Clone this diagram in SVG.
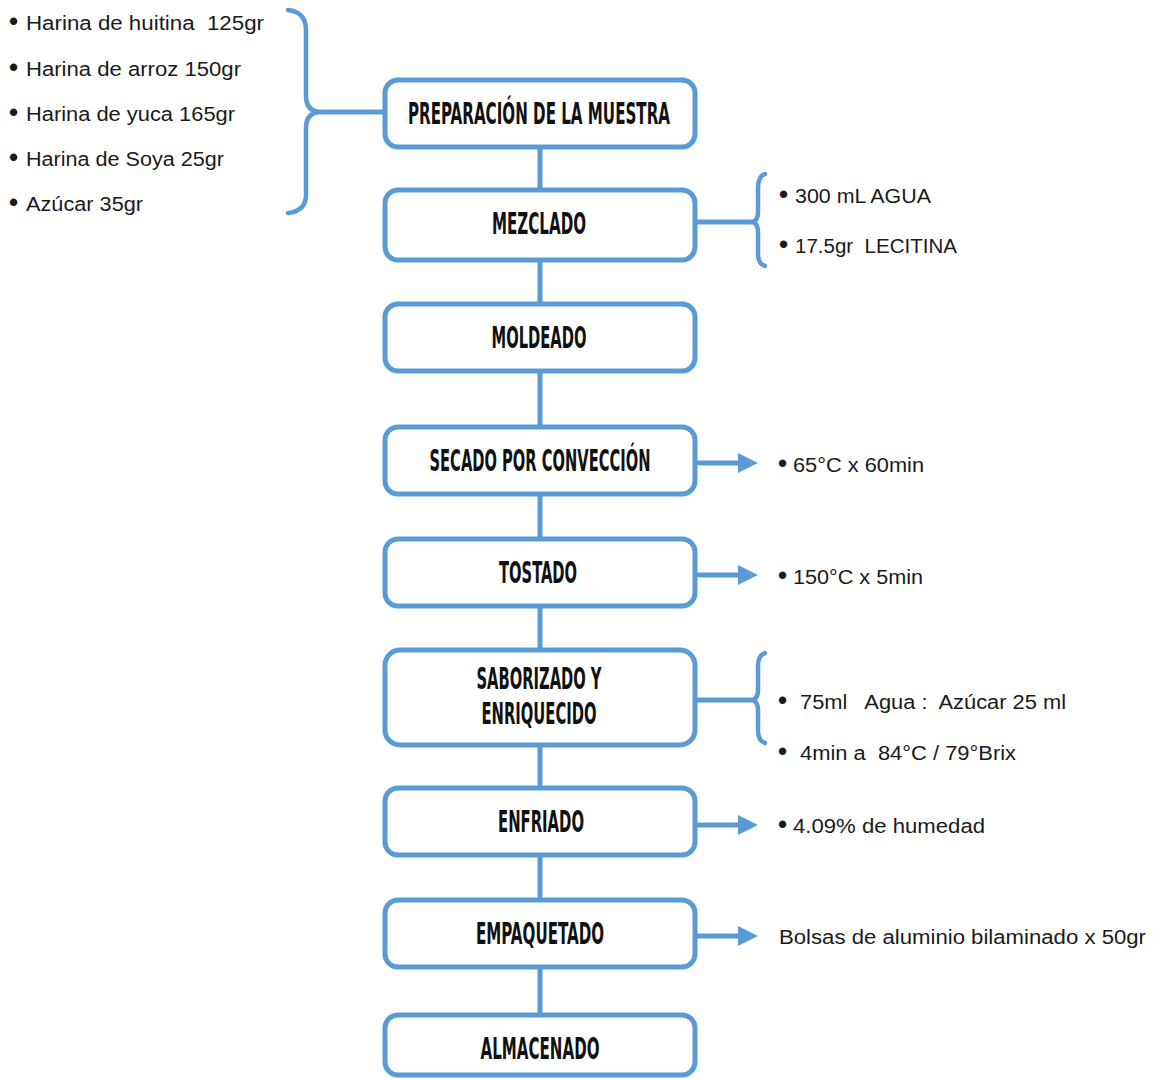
<svg xmlns="http://www.w3.org/2000/svg" width="1153" height="1079" viewBox="0 0 1153 1079">
<style>
.box{fill:#fff;stroke:#5b9bd5;stroke-width:5}
.ln{fill:none;stroke:#5b9bd5;stroke-width:5}
.br{fill:none;stroke:#5b9bd5;stroke-width:4.5;stroke-linecap:round;stroke-linejoin:round}
.t{font-family:"Liberation Sans Narrow","DejaVu Sans Condensed","Liberation Sans",sans-serif;font-weight:bold;font-size:30px;fill:#111;text-anchor:middle}
.n{font-family:"Liberation Sans","Open Sans",sans-serif;font-size:20px;fill:#1a1a1a;white-space:pre}
.b{font-size:26px;font-weight:bold}
</style>
<rect width="1153" height="1079" fill="#fff"/>
<g id="connectors">
<path class="ln" d="M540 148 V190 M540 260 V304 M540 371 V427 M540 494 V539 M540 606 V650 M540 745 V788 M540 855 V900 M540 967 V1015"/>
<path class="ln" d="M318 112 H385"/>
<path class="br" d="M288 10 Q306 12 306 30 V96 Q306 110 318 112 Q306 114 306 128 V195 Q306 211 288 213"/>
<path class="ln" d="M695 222 H752"/>
<path class="br" d="M765 174 Q758 176 758 188 V212 Q758 221 752 222 Q758 223 758 232 V254 Q758 264 765 266"/>
<path class="ln" d="M695 700 H752"/>
<path class="br" d="M765 653 Q758 655 758 666 V690 Q758 699 752 700 Q758 701 758 710 V730 Q758 741 765 743"/>
<g fill="#5b9bd5">
<path class="ln" d="M695 463 H740"/><path d="M738 453 L758 463 L738 473 Z"/>
<path class="ln" d="M695 575 H740"/><path d="M738 565 L758 575 L738 585 Z"/>
<path class="ln" d="M695 825 H740"/><path d="M738 815 L758 825 L738 835 Z"/>
<path class="ln" d="M695 936 H740"/><path d="M738 926 L758 936 L738 946 Z"/>
</g>
</g>
<g id="n1"><rect class="box" x="385" y="80" width="310" height="67" rx="13"/><text class="t" x="539" y="124" textLength="262" lengthAdjust="spacingAndGlyphs">PREPARACIÓN DE LA MUESTRA</text></g>
<g id="n2"><rect class="box" x="385" y="190" width="310" height="70" rx="13"/><text class="t" x="539" y="234" textLength="94" lengthAdjust="spacingAndGlyphs">MEZCLADO</text></g>
<g id="n3"><rect class="box" x="385" y="304" width="310" height="67" rx="13"/><text class="t" x="539" y="348" textLength="95" lengthAdjust="spacingAndGlyphs">MOLDEADO</text></g>
<g id="n4"><rect class="box" x="385" y="427" width="310" height="67" rx="13"/><text class="t" x="540" y="471" textLength="221" lengthAdjust="spacingAndGlyphs">SECADO POR CONVECCIÓN</text></g>
<g id="n5"><rect class="box" x="385" y="539" width="310" height="67" rx="13"/><text class="t" x="538" y="583" textLength="78" lengthAdjust="spacingAndGlyphs">TOSTADO</text></g>
<g id="n6"><rect class="box" x="385" y="650" width="310" height="95" rx="15"/><text class="t" x="539" y="689" textLength="125" lengthAdjust="spacingAndGlyphs">SABORIZADO Y</text><text class="t" x="539" y="724" textLength="115" lengthAdjust="spacingAndGlyphs">ENRIQUECIDO</text></g>
<g id="n7"><rect class="box" x="385" y="788" width="310" height="67" rx="13"/><text class="t" x="541" y="832" textLength="86" lengthAdjust="spacingAndGlyphs">ENFRIADO</text></g>
<g id="n8"><rect class="box" x="385" y="900" width="310" height="67" rx="13"/><text class="t" x="540" y="944" textLength="128" lengthAdjust="spacingAndGlyphs">EMPAQUETADO</text></g>
<g id="n9"><rect class="box" x="385" y="1015" width="310" height="60" rx="13"/><text class="t" x="540" y="1059" textLength="119" lengthAdjust="spacingAndGlyphs">ALMACENADO</text></g>
<g id="ingredientes">
<text class="n" x="9" y="30"><tspan class="b">•</tspan><tspan x="26" textLength="238" lengthAdjust="spacingAndGlyphs">Harina de huitina  125gr</tspan></text>
<text class="n" x="9" y="76"><tspan class="b">•</tspan><tspan x="26" textLength="215" lengthAdjust="spacingAndGlyphs">Harina de arroz 150gr</tspan></text>
<text class="n" x="9" y="121"><tspan class="b">•</tspan><tspan x="26" textLength="209" lengthAdjust="spacingAndGlyphs">Harina de yuca 165gr</tspan></text>
<text class="n" x="9" y="166"><tspan class="b">•</tspan><tspan x="26" textLength="198" lengthAdjust="spacingAndGlyphs">Harina de Soya 25gr</tspan></text>
<text class="n" x="9" y="211"><tspan class="b">•</tspan><tspan x="26" textLength="117" lengthAdjust="spacingAndGlyphs">Azúcar 35gr</tspan></text>
</g>
<g id="mezclado-notas">
<text class="n" x="779" y="203"><tspan class="b">•</tspan><tspan x="795" textLength="136" lengthAdjust="spacingAndGlyphs">300 mL AGUA</tspan></text>
<text class="n" x="779" y="253"><tspan class="b">•</tspan><tspan x="795" textLength="162" lengthAdjust="spacingAndGlyphs">17.5gr  LECITINA</tspan></text>
</g>
<g id="secado-nota"><text class="n" x="778" y="472"><tspan class="b">•</tspan><tspan x="793" textLength="131" lengthAdjust="spacingAndGlyphs">65°C x 60min</tspan></text></g>
<g id="tostado-nota"><text class="n" x="778" y="584"><tspan class="b">•</tspan><tspan x="793" textLength="130" lengthAdjust="spacingAndGlyphs">150°C x 5min</tspan></text></g>
<g id="saborizado-notas">
<text class="n" x="778" y="709"><tspan class="b">•</tspan><tspan x="800" textLength="266" lengthAdjust="spacingAndGlyphs">75ml   Agua :  Azúcar 25 ml</tspan></text>
<text class="n" x="778" y="760"><tspan class="b">•</tspan><tspan x="800" textLength="216" lengthAdjust="spacingAndGlyphs">4min a  84°C / 79°Brix</tspan></text>
</g>
<g id="enfriado-nota"><text class="n" x="778" y="833"><tspan class="b">•</tspan><tspan x="793" textLength="192" lengthAdjust="spacingAndGlyphs">4.09% de humedad</tspan></text></g>
<g id="empaquetado-nota"><text class="n" x="779" y="944" textLength="367" lengthAdjust="spacingAndGlyphs">Bolsas de aluminio bilaminado x 50gr</text></g>
</svg>
